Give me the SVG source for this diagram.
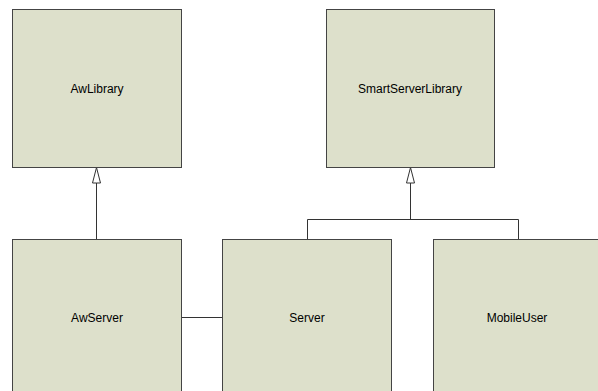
<svg xmlns="http://www.w3.org/2000/svg" width="598" height="391" viewBox="0 0 598 391">
<defs>
<style>
.box{fill:#dde0cb;stroke:#444;stroke-width:1}
.lbl{font-family:"Liberation Sans",Arial,sans-serif;font-size:12px;fill:#000;text-anchor:middle}
.edge{fill:none;stroke:#333;stroke-width:1}
.head{fill:#fff;stroke:#333;stroke-width:1}
</style>
</defs>
<rect width="598" height="391" fill="#fff"/>
<g id="connectors">
<path class="edge" d="M96.5,239 V183"/>
<path class="head" d="M96.5,183 L92.5,183 L96.5,167.5 L100.5,183 Z"/>
<path class="edge" d="M307.5,239 V219.5 H518.5 V239"/>
<path class="edge" d="M410.5,219.5 V183"/>
<path class="head" d="M410.5,183 L406.5,183 L410.5,167.5 L414.5,183 Z"/>
<path class="edge" d="M181,317.5 H223"/>
</g>
<g id="AwLibrary">
<rect class="box" x="12.5" y="9.5" width="169" height="158"/>
<text class="lbl" x="97" y="93">AwLibrary</text>
</g>
<g id="SmartServerLibrary">
<rect class="box" x="326.5" y="9.5" width="168" height="158"/>
<text class="lbl" x="410" y="93">SmartServerLibrary</text>
</g>
<g id="AwServer">
<rect class="box" x="12.5" y="239.5" width="169" height="160"/>
<text class="lbl" x="97" y="322">AwServer</text>
</g>
<g id="Server">
<rect class="box" x="222.5" y="239.5" width="169" height="160"/>
<text class="lbl" x="307" y="322">Server</text>
</g>
<g id="MobileUser">
<rect class="box" x="433.5" y="239.5" width="169" height="160"/>
<text class="lbl" x="517" y="322">MobileUser</text>
</g>
</svg>
